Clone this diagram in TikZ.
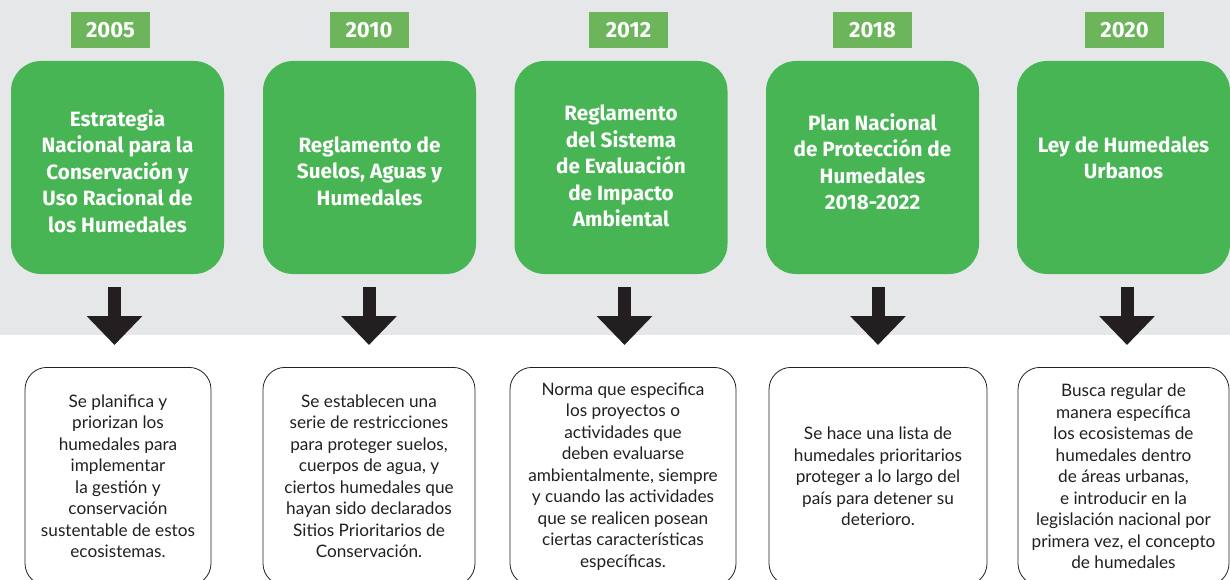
\documentclass[tikz,border=0pt]{standalone}
\usepackage{fontspec}
\usepackage{tikz}
\usetikzlibrary{arrows.meta,positioning}
\setmainfont{Lato}
\newfontfamily\titlefont{Fira Sans}
\definecolor{HumGray}{RGB}{230,231,232}
\definecolor{HumGreen}{RGB}{72,181,84}
\definecolor{HumYear}{RGB}{108,181,90}
\definecolor{HumDark}{RGB}{35,31,32}
\tikzset{
  yearbox/.style={rectangle, fill=HumYear, text=white, inner sep=0pt,
    minimum width=79pt, minimum height=36pt, font=\titlefont\bfseries\fontsize{22}{24}\selectfont},
  greenbox/.style={rectangle, rounded corners=30pt, fill=HumGreen, inner sep=0pt,
    minimum width=213pt, minimum height=213pt},
  titletext/.style={align=center, text=white, inner sep=0pt,
    font=\titlefont\bfseries\fontsize{20.7}{26.5}\selectfont},
  descbox/.style={rectangle, rounded corners=22pt, draw=HumDark, line width=0.8pt,
    align=center, text=HumDark, inner sep=0pt, minimum height=218pt, anchor=north,
    font=\fontsize{17.2}{21.5}\selectfont},
  bigarrow/.style={-{Triangle[width=54pt, length=29pt]}, line width=13pt, draw=HumDark,
    shorten <=13pt, shorten >=22pt}
}
\begin{document}
\begin{tikzpicture}[x=1pt, y=-1pt]
  \useasboundingbox (0,0) rectangle (1230,580);
  \clip (0,0) rectangle (1230,580);
  \fill[HumGray] (0,0) rectangle (1230,335);
  % years
  \node[yearbox] (y1) at (110.5,30) {2005};
  \node[yearbox] (y2) at (369,30) {2010};
  \node[yearbox] (y3) at (628.5,30) {2012};
  \node[yearbox] (y4) at (872.5,30) {2018};
  \node[yearbox] (y5) at (1124.5,30) {2020};
  % green boxes
  \node[greenbox] (g1) at (117.5,167.5) {};
  \node[greenbox] (g2) at (369.5,167.5) {};
  \node[greenbox] (g3) at (621,167.5) {};
  \node[greenbox] (g4) at (872.5,167.5) {};
  \node[greenbox] (g5) at (1123.5,167.5) {};
  \node[titletext] (t1) at (117.5,171) {Estrategia\\Nacional para la\\Conservación y\\Uso Racional de\\los Humedales};
  \node[titletext] (t2) at (369.5,171) {Reglamento de\\Suelos, Aguas y\\Humedales};
  \node[titletext] (t3) at (621,166) {Reglamento\\del Sistema\\de Evaluación\\de Impacto\\Ambiental};
  \node[titletext] (t4) at (872.5,162) {Plan Nacional\\de Protección de\\Humedales\\2018-2022};
  \node[titletext] (t5) at (1123.5,158) {Ley de Humedales\\Urbanos};
  % descriptions
  \node[descbox, minimum width=186pt] (d1) at (118,367) {Se planifica y\\priorizan los\\humedales para\\implementar\\la gestión y\\conservación\\sustentable de estos\\ecosistemas.};
  \node[descbox, minimum width=212pt] (d2) at (369,367) {Se establecen una\\serie de restricciones\\para proteger suelos,\\cuerpos de agua, y\\ciertos humedales que\\hayan sido declarados\\Sitios Prioritarios de\\Conservación.};
  \node[descbox, minimum width=226pt] (d3) at (623,367) {Norma que especifica\\los proyectos o\\actividades que\\deben evaluarse\\ambientalmente, siempre\\y cuando las actividades\\que se realicen posean\\ciertas características\\específicas.};
  \node[descbox, minimum width=218pt] (d4) at (878,367) {Se hace una lista de\\humedales prioritarios\\proteger a lo largo del\\país para detener su\\deterioro.};
  \node[descbox, minimum width=211pt] (d5) at (1123.5,367) {Busca regular de\\manera específica\\los ecosistemas de\\humedales dentro\\de áreas urbanas,\\e introducir en la\\legislación nacional por\\primera vez, el concepto\\de humedales};
  % arrows
  \draw[bigarrow] ([xshift=-3pt]g1.south) -- ([xshift=-3pt]g1.south |- d1.north);
  \draw[bigarrow] ([xshift=-0.5pt]g2.south) -- ([xshift=-0.5pt]g2.south |- d2.north);
  \draw[bigarrow] ([xshift=3.5pt]g3.south) -- ([xshift=3.5pt]g3.south |- d3.north);
  \draw[bigarrow] ([xshift=5.5pt]g4.south) -- ([xshift=5.5pt]g4.south |- d4.north);
  \draw[bigarrow] ([xshift=3.5pt]g5.south) -- ([xshift=3.5pt]g5.south |- d5.north);
\end{tikzpicture}
\end{document}
